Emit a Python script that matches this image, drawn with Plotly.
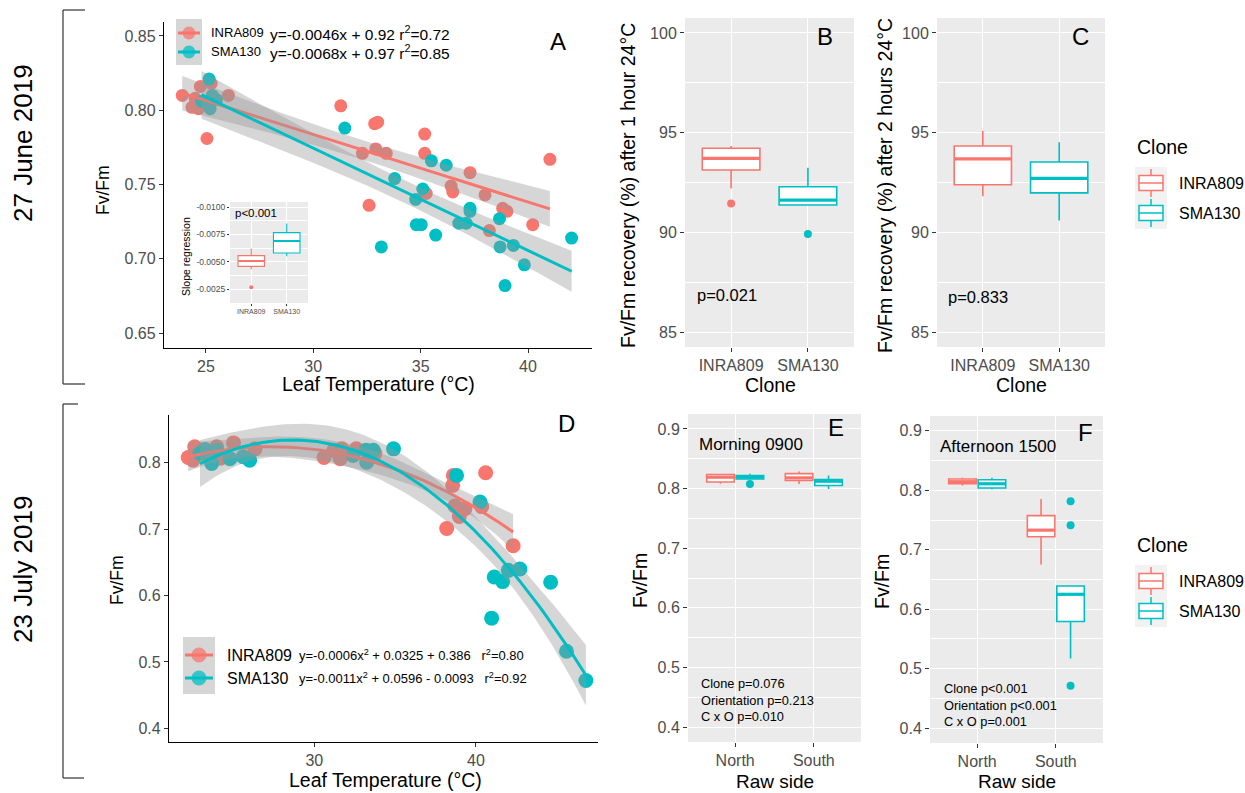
import numpy as np
import plotly.graph_objects as go

W, H = 1245, 793
FONT = "Liberation Sans, Arial, sans-serif"
RED, TEAL = "#F8766D", "#00BFC4"
PANEL = "#EBEBEB"
TICKC = "#4D4D4D"
RIBBON = "rgba(153,153,153,0.4)"

clones = ["INRA809", "SMA130"]
sides = ["North", "South"]

# ---------------- Panel A : 27 June 2019, Fv/Fm vs leaf temperature ----------------
a_inra_temp = [23.9, 24.35, 24.5, 24.66, 24.74, 24.9, 25.05, 25.25, 26.05, 31.28, 32.86, 33.0, 32.29,
               32.91, 33.4, 32.6, 35.19, 35.19, 35.26, 36.42, 36.5, 37.3, 38.0, 38.2, 38.82, 39.02,
               40.22, 41.02]
a_inra_fvfm = [0.810, 0.802, 0.808, 0.801, 0.816, 0.806, 0.781, 0.818, 0.810, 0.803, 0.791, 0.792, 0.771,
               0.774, 0.771, 0.736, 0.784, 0.771, 0.744, 0.749, 0.745, 0.758, 0.743, 0.719, 0.734, 0.732,
               0.723, 0.767]
a_sma_temp = [24.8, 25.15, 25.2, 25.3, 25.5, 31.47, 33.79, 33.17, 35.5, 36.19, 35.1, 34.77, 34.8, 35.03,
              35.7, 36.78, 37.12, 37.3, 37.3, 38.67, 38.7, 39.32, 38.93, 39.83, 42.03]
a_sma_fvfm = [0.806, 0.821, 0.801, 0.810, 0.807, 0.788, 0.754, 0.708, 0.766, 0.763, 0.747, 0.740, 0.723,
              0.723, 0.716, 0.724, 0.724, 0.734, 0.732, 0.727, 0.708, 0.709, 0.682, 0.696, 0.714]
a_eq = ["y=-0.0046x + 0.92 r<sup>2</sup>=0.72", "y=-0.0068x + 0.97 r<sup>2</sup>=0.85"]

# inset: slope regression per clone (box stats)
ins_q1 = [-0.00555, -0.00766]
ins_med = [-0.00506, -0.00689]
ins_q3 = [-0.00457, -0.00580]
ins_lo = [-0.00620, -0.00850]
ins_hi = [-0.00430, -0.00549]
ins_out_clone = [0]
ins_out_val = [-0.00265]

# ---------------- Panels B, C : recovery (%) ----------------
b_q1 = [93.13, 91.37]
b_med = [93.71, 91.62]
b_q3 = [94.22, 92.29]
b_lo = [92.20, 91.35]
b_hi = [94.33, 93.24]
b_out_clone = [0, 1]
b_out_val = [91.45, 89.92]

c_q1 = [92.39, 91.98]
c_med = [93.68, 92.71]
c_q3 = [94.33, 93.53]
c_lo = [91.81, 90.60]
c_hi = [95.10, 94.52]

# ---------------- Panel D : 23 July 2019 ----------------
d_inra_temp = [22.2, 22.5, 22.6, 23.55, 23.96, 24.2, 25.0, 26.33, 30.6, 31.2, 31.6, 31.7, 32.6, 33.75,
               38.19, 38.56, 38.6, 38.7, 38.97, 39.32, 40.35, 40.6, 42.3]
d_inra_fvfm = [0.808, 0.804, 0.824, 0.809, 0.824, 0.807, 0.830, 0.821, 0.808, 0.819, 0.806, 0.821, 0.821,
               0.814, 0.701, 0.766, 0.781, 0.735, 0.719, 0.731, 0.734, 0.785, 0.675]
d_sma_temp = [22.93, 23.24, 23.65, 23.96, 24.78, 25.6, 26.0, 32.4, 33.2, 33.24, 33.65, 34.9, 38.8, 40.25,
              40.97, 41.13, 41.65, 42.0, 42.72, 44.62, 45.6, 46.8]
d_sma_fvfm = [0.814, 0.820, 0.799, 0.819, 0.806, 0.809, 0.804, 0.811, 0.819, 0.801, 0.819, 0.821, 0.781,
              0.741, 0.566, 0.628, 0.621, 0.638, 0.640, 0.620, 0.516, 0.472]
d_eq = ["y=-0.0006x<sup>2</sup> + 0.0325 + 0.386\u00a0\u00a0\u00a0r<sup>2</sup>=0.80",
        "y=-0.0011x<sup>2</sup> + 0.0596 - 0.0093\u00a0\u00a0\u00a0r<sup>2</sup>=0.92"]

# ---------------- Panels E, F : by raw side (rows: clone, cols: North/South) ----------------
e_q1 = [[0.8110, 0.8134], [0.8160, 0.8050]]
e_med = [[0.8190, 0.8179], [0.8190, 0.8123]]
e_q3 = [[0.8235, 0.8250], [0.8218, 0.8150]]
e_lo = [[0.8080, 0.8078], [0.8160, 0.7994]]
e_hi = [[0.8250, 0.8285], [0.8250, 0.8218]]
e_out = [[[], []], [[0.8078], []]]

f_q1 = [[0.8110, 0.7218], [0.8040, 0.5793]]
f_med = [[0.8145, 0.7330], [0.8110, 0.6251]]
f_q3 = [[0.8190, 0.7575], [0.8179, 0.6390]]
f_lo = [[0.8080, 0.6754], [0.8020, 0.5173]]
f_hi = [[0.8210, 0.7855], [0.8210, 0.6390]]
f_out = [[[], []], [[], [0.7816, 0.7413, 0.4715]]]

colors = [RED, TEAL]


def px(x):
    return x / W


def py(y):
    return 1 - y / H


def poly_band(x, y, deg, n=100):
    x = np.asarray(x, float)
    y = np.asarray(y, float)
    X = np.vander(x, deg + 1, increasing=True)
    beta = np.linalg.lstsq(X, y, rcond=None)[0]
    res = y - X @ beta
    df = len(x) - (deg + 1)
    s2 = res @ res / df
    cov = s2 * np.linalg.inv(X.T @ X)
    xs = np.linspace(x.min(), x.max(), n)
    Xs = np.vander(xs, deg + 1, increasing=True)
    fit = Xs @ beta
    se = np.sqrt(np.einsum("ij,jk,ik->i", Xs, cov, Xs))
    t = 1.96 + 2.4 / df
    return xs, fit, fit - t * se, fit + t * se


fig = go.Figure()

# ---- Panel A traces: points first, smooths on top
for xs_, ys_, col in [(a_inra_temp, a_inra_fvfm, RED), (a_sma_temp, a_sma_fvfm, TEAL)]:
    fig.add_trace(go.Scatter(x=xs_, y=ys_, mode="markers", marker=dict(color=col, size=13, line=dict(width=0)),
                             xaxis="x", yaxis="y", showlegend=False, hoverinfo="skip"))
for xs_, ys_, col in [(a_inra_temp, a_inra_fvfm, RED), (a_sma_temp, a_sma_fvfm, TEAL)]:
    gx, gf, gl, gh = poly_band(xs_, ys_, 1)
    fig.add_trace(go.Scatter(x=np.concatenate([gx, gx[::-1]]), y=np.concatenate([gl, gh[::-1]]),
                             fill="toself", fillcolor=RIBBON, line=dict(width=0), mode="lines",
                             xaxis="x", yaxis="y", showlegend=False, hoverinfo="skip"))
    fig.add_trace(go.Scatter(x=gx, y=gf, mode="lines", line=dict(color=col, width=3),
                             xaxis="x", yaxis="y", showlegend=False, hoverinfo="skip"))

# ---- Panel D traces
for xs_, ys_, col in [(d_inra_temp, d_inra_fvfm, RED), (d_sma_temp, d_sma_fvfm, TEAL)]:
    fig.add_trace(go.Scatter(x=xs_, y=ys_, mode="markers", marker=dict(color=col, size=15, line=dict(width=0)),
                             xaxis="x4", yaxis="y4", showlegend=False, hoverinfo="skip"))
for xs_, ys_, col in [(d_inra_temp, d_inra_fvfm, RED), (d_sma_temp, d_sma_fvfm, TEAL)]:
    gx, gf, gl, gh = poly_band(xs_, ys_, 2)
    fig.add_trace(go.Scatter(x=np.concatenate([gx, gx[::-1]]), y=np.concatenate([gl, gh[::-1]]),
                             fill="toself", fillcolor=RIBBON, line=dict(width=0), mode="lines",
                             xaxis="x4", yaxis="y4", showlegend=False, hoverinfo="skip"))
    fig.add_trace(go.Scatter(x=gx, y=gf, mode="lines", line=dict(color=col, width=3),
                             xaxis="x4", yaxis="y4", showlegend=False, hoverinfo="skip"))


def add_box(xa, ya, pos, q1, med, q3, lo, hi, col, width, lw=1.6, mw=3.2):
    fig.add_trace(go.Box(x=[pos], q1=[q1], median=[med], q3=[q3], lowerfence=[lo], upperfence=[hi],
                         width=width, fillcolor="white", line=dict(color=col, width=lw), whiskerwidth=0,
                         boxpoints=False, xaxis=xa, yaxis=ya, showlegend=False, hoverinfo="skip"))
    fig.add_trace(go.Scatter(x=[pos - width / 2, pos + width / 2], y=[med, med], mode="lines",
                             line=dict(color=col, width=mw), xaxis=xa, yaxis=ya,
                             showlegend=False, hoverinfo="skip"))


# ---- Panel B and C
for i in range(2):
    add_box("x2", "y2", i + 1, b_q1[i], b_med[i], b_q3[i], b_lo[i], b_hi[i], colors[i], 0.75)
    add_box("x3", "y3", i + 1, c_q1[i], c_med[i], c_q3[i], c_lo[i], c_hi[i], colors[i], 0.75)
fig.add_trace(go.Scatter(x=[k + 1 for k in b_out_clone], y=b_out_val, mode="markers",
                         marker=dict(color=[colors[k] for k in b_out_clone], size=8),
                         xaxis="x2", yaxis="y2", showlegend=False, hoverinfo="skip"))

# ---- Panel E and F (dodged)
for panel, (xa, ya, Q1, MED, Q3, LO, HI, OUT) in {
        "E": ("x5", "y5", e_q1, e_med, e_q3, e_lo, e_hi, e_out),
        "F": ("x6", "y6", f_q1, f_med, f_q3, f_lo, f_hi, f_out)}.items():
    for c in range(2):
        for s in range(2):
            pos = s + 1 + (-0.1875 if c == 0 else 0.1875)
            add_box(xa, ya, pos, Q1[c][s], MED[c][s], Q3[c][s], LO[c][s], HI[c][s], colors[c], 0.35)
            if OUT[c][s]:
                fig.add_trace(go.Scatter(x=[pos] * len(OUT[c][s]), y=OUT[c][s], mode="markers",
                                         marker=dict(color=colors[c], size=8), xaxis=xa, yaxis=ya,
                                         showlegend=False, hoverinfo="skip"))

# ---- Inset (slope regression)
for i in range(2):
    add_box("x7", "y7", i + 1, ins_q1[i], ins_med[i], ins_q3[i], ins_lo[i], ins_hi[i], colors[i], 0.75,
            lw=1.1, mw=2)
fig.add_trace(go.Scatter(x=[k + 1 for k in ins_out_clone], y=ins_out_val, mode="markers",
                         marker=dict(color=[colors[k] for k in ins_out_clone], size=4),
                         xaxis="x7", yaxis="y7", showlegend=False, hoverinfo="skip"))


# ---------------- axes ----------------
def dom_x(a, b):
    return [a / W, b / W]


def dom_y(top, bottom):
    return [1 - bottom / H, 1 - top / H]


def caxis(dom, rng, tv, tt, anchor, fs=16):
    return dict(domain=dom, range=rng, tickvals=tv, ticktext=tt, showgrid=False, zeroline=False,
                showline=True, linecolor="black", linewidth=1.3, ticks="outside", ticklen=4,
                tickwidth=1.1, tickcolor="#333333", tickfont=dict(size=fs, color=TICKC, family=FONT),
                anchor=anchor, fixedrange=True)


def gaxis(dom, rng, tv, tt, anchor, minor=None, fs=16, ticklen=4, gw=1.4):
    d = dict(domain=dom, range=rng, tickvals=tv, ticktext=tt, showgrid=True, gridcolor="white",
             gridwidth=gw, zeroline=False, showline=False, ticks="outside", ticklen=ticklen,
             tickwidth=1.1, tickcolor="#333333", tickfont=dict(size=fs, color=TICKC, family=FONT),
             anchor=anchor, fixedrange=True)
    if minor is not None:
        d["minor"] = dict(tickvals=minor, showgrid=True, gridcolor="white", gridwidth=gw / 2, ticks="")
    return d


A_X = [23.05, 42.98]
A_Y = [0.640, 0.8594]
D_X = [21.01, 47.55]
D_Y = [0.3794, 0.872]
BC_Y = [84.25, 100.75]
EF_Y = [0.375, 0.925]
CAT_X = [0.4, 2.6]
INS_Y = [-0.00122, -0.01046]

layout_axes = dict(
    xaxis=caxis(dom_x(164, 592), A_X, [25, 30, 35, 40], ["25", "30", "35", "40"], "y"),
    yaxis=caxis(dom_y(22, 348), A_Y, [0.65, 0.70, 0.75, 0.80, 0.85], ["0.65", "0.70", "0.75", "0.80", "0.85"], "x"),
    xaxis2=gaxis(dom_x(685, 854), CAT_X, [1, 2], clones, "y2"),
    yaxis2=gaxis(dom_y(18, 347), BC_Y, [85, 90, 95, 100], ["85", "90", "95", "100"], "x2", minor=[87.5, 92.5, 97.5]),
    xaxis3=gaxis(dom_x(937, 1105), CAT_X, [1, 2], clones, "y3"),
    yaxis3=gaxis(dom_y(18, 347), BC_Y, [85, 90, 95, 100], ["85", "90", "95", "100"], "x3", minor=[87.5, 92.5, 97.5]),
    xaxis4=caxis(dom_x(169, 598), D_X, [30, 40], ["30", "40"], "y4"),
    yaxis4=caxis(dom_y(415, 742), D_Y, [0.4, 0.5, 0.6, 0.7, 0.8], ["0.4", "0.5", "0.6", "0.7", "0.8"], "x4"),
    xaxis5=gaxis(dom_x(688, 861), CAT_X, [1, 2], sides, "y5"),
    yaxis5=gaxis(dom_y(414, 742), EF_Y, [0.4, 0.5, 0.6, 0.7, 0.8, 0.9], ["0.4", "0.5", "0.6", "0.7", "0.8", "0.9"], "x5",
                 minor=[0.45, 0.55, 0.65, 0.75, 0.85]),
    xaxis6=gaxis(dom_x(930, 1103), CAT_X, [1, 2], sides, "y6"),
    yaxis6=gaxis(dom_y(416, 743), EF_Y, [0.4, 0.5, 0.6, 0.7, 0.8, 0.9], ["0.4", "0.5", "0.6", "0.7", "0.8", "0.9"], "x6",
                 minor=[0.45, 0.55, 0.65, 0.75, 0.85]),
    xaxis7=gaxis(dom_x(230, 308), CAT_X, [1, 2], clones, "y7", fs=7, ticklen=2, gw=0.8),
    yaxis7=gaxis(dom_y(202, 303), INS_Y, [-0.01, -0.0075, -0.005, -0.0025],
                 ["-0.0100", "-0.0075", "-0.0050", "-0.0025"], "x7",
                 minor=[-0.00875, -0.00625, -0.00375, -0.00125], fs=8.5, ticklen=2, gw=0.8),
)

shapes = []
# grey panel backgrounds
for xa, ya, yr in [("x2", "y2", BC_Y), ("x3", "y3", BC_Y), ("x5", "y5", EF_Y), ("x6", "y6", EF_Y),
                   ("x7", "y7", INS_Y)]:
    shapes.append(dict(type="rect", xref=xa, yref=ya, x0=CAT_X[0], x1=CAT_X[1], y0=min(yr), y1=max(yr),
                       fillcolor=PANEL, line=dict(width=0), layer="below"))

# brackets for the two dates
for top, bot, r1, r2 in [(10, 384, 85, 85), (404, 778, 78, 84)]:
    shapes.append(dict(type="line", xref="paper", yref="paper", x0=px(63), x1=px(63), y0=py(top), y1=py(bot),
                       line=dict(color="#333333", width=1.2)))
    shapes.append(dict(type="line", xref="paper", yref="paper", x0=px(63), x1=px(r1), y0=py(top), y1=py(top),
                       line=dict(color="#333333", width=1.2)))
    shapes.append(dict(type="line", xref="paper", yref="paper", x0=px(63), x1=px(r2), y0=py(bot), y1=py(bot),
                       line=dict(color="#333333", width=1.2)))

annotations = []


def ann(text, x, y, size, xanchor="center", yanchor="middle", color="black", angle=0, align="center"):
    annotations.append(dict(text=text, x=px(x), y=py(y), xref="paper", yref="paper", showarrow=False,
                            font=dict(size=size, color=color, family=FONT), xanchor=xanchor,
                            yanchor=yanchor, textangle=angle, align=align))


# scatter legends (A and D)
def scatter_key(x0, x1, ytop, ybot, rows, msize, lab_x, lab_fs, eq_x, eq_fs, eqs):
    shapes.append(dict(type="rect", xref="paper", yref="paper", x0=px(x0), x1=px(x1), y0=py(ybot), y1=py(ytop),
                       fillcolor="#D6D6D6", line=dict(width=0)))
    cx = (x0 + x1) / 2
    for (yc, col, lab, eq) in zip(rows, colors, clones, eqs):
        shapes.append(dict(type="line", xref="paper", yref="paper", x0=px(x0 + 2), x1=px(x1 - 2), y0=py(yc), y1=py(yc),
                           line=dict(color=col, width=3)))
        r = msize / 2
        shapes.append(dict(type="circle", xref="paper", yref="paper", x0=px(cx - r), x1=px(cx + r),
                           y0=py(yc + r), y1=py(yc - r), fillcolor=col, opacity=0.75, line=dict(width=0)))
        ann(lab, lab_x, yc, lab_fs, xanchor="left")
        ann(eq, eq_x, yc, eq_fs, xanchor="left")


scatter_key(176, 202, 19, 65, [33, 52], 13, 209, 13, 268, 15.5, a_eq)
scatter_key(183, 215, 637, 694, [655, 678], 15, 225, 16, 297, 13, d_eq)


# Clone legends (box icons)
def clone_legend(ty):
    ann("Clone", 1135, ty, 19.5, xanchor="left")
    rows = [ty + 36, ty + 66]
    shapes.append(dict(type="rect", xref="paper", yref="paper", x0=px(1135), x1=px(1167), y0=py(rows[1] + 16),
                       y1=py(rows[0] - 16), fillcolor="#F2F2F2", line=dict(width=0)))
    for yc, col, lab in zip(rows, colors, clones):
        shapes.append(dict(type="line", xref="paper", yref="paper", x0=px(1151), x1=px(1151), y0=py(yc - 14),
                           y1=py(yc + 14), line=dict(color=col, width=1.5)))
        shapes.append(dict(type="rect", xref="paper", yref="paper", x0=px(1139), x1=px(1163), y0=py(yc + 7.5),
                           y1=py(yc - 7.5), fillcolor="white", line=dict(color=col, width=1.5)))
        shapes.append(dict(type="line", xref="paper", yref="paper", x0=px(1139), x1=px(1163), y0=py(yc),
                           y1=py(yc), line=dict(color=col, width=1.5)))
        ann(lab, 1177, yc, 16, xanchor="left")


clone_legend(147)
clone_legend(545)

# date labels
ann("27 June 2019", 23, 143, 26, angle=-90)
ann("23 July 2019", 23, 570, 26, angle=-90)
# panel letters
for t, x, y in [("A", 558, 41), ("B", 825, 37), ("C", 1080, 37), ("D", 566, 423), ("E", 836, 427), ("F", 1085, 432)]:
    ann(t, x, y, 24)
# axis titles
ann("Fv/Fm", 103, 190, 17.5, angle=-90)
ann("Fv/Fm", 117, 580, 17.5, angle=-90)
ann("Leaf Temperature (°C)", 378, 384, 19.5)
ann("Leaf Temperature (°C)", 385, 780, 19.5)
ann("Fv/Fm recovery (%) after 1 hour 24°C", 628, 186, 19.5, angle=-90)
ann("Fv/Fm recovery (%) after 2 hours 24°C", 885, 186, 19.5, angle=-90)
ann("Clone", 770, 385, 19.5)
ann("Clone", 1021, 385, 19.5)
ann("Fv/Fm", 640, 580, 19.5, angle=-90)
ann("Fv/Fm", 882, 582, 19.5, angle=-90)
ann("Raw side", 775, 781, 19)
ann("Raw side", 1017, 781, 19)
# in-panel texts
ann("p=0.021", 727, 295, 16.5)
ann("p=0.833", 978, 297, 16.5)
ann("Morning 0900", 697, 444, 17, xanchor="left")
ann("Afternoon 1500", 938, 446, 17, xanchor="left")
ann("Clone p=0.076<br>Orientation p=0.213<br>C x O p=0.010", 699, 674, 12.8, xanchor="left", yanchor="top", align="left")
ann("Clone p<0.001<br>Orientation p<0.001<br>C x O p=0.001", 942, 679, 12.8, xanchor="left", yanchor="top", align="left")
# inset texts
ann("p<0.001", 233, 213, 11.5, xanchor="left")
ann("Slope regression", 186, 257, 10.5, angle=-90)

fig.update_layout(width=W, height=H, margin=dict(l=0, r=0, t=0, b=0), paper_bgcolor="white",
                  plot_bgcolor="white", showlegend=False, font=dict(family=FONT),
                  shapes=shapes, annotations=annotations, **layout_axes)

fig.write_html("out.html", config={"displayModeBar": False},
               post_script="document.body.style.margin='0';document.body.style.overflow='hidden';")
